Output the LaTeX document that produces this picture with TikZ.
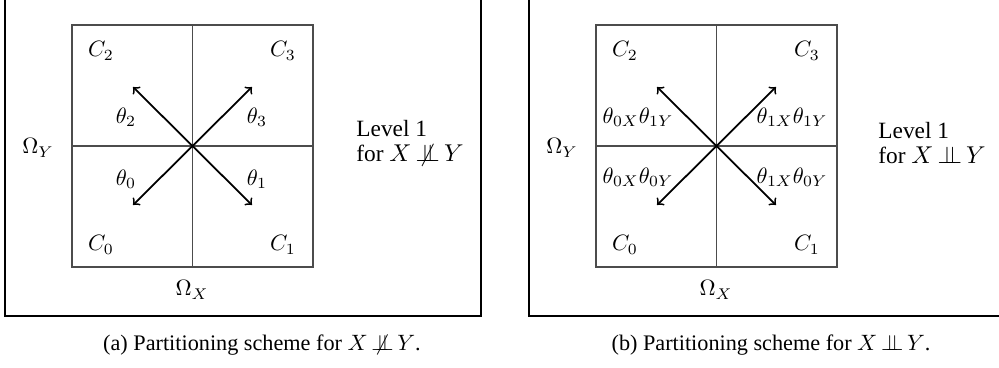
\documentclass[tikz,border=0pt]{standalone}
\usepackage[no-math]{fontspec}
\setmainfont{Liberation Serif}
\usetikzlibrary{positioning}
\newcommand{\indep}{\mkern3mu{\perp\mkern-10mu\perp}\mkern3mu}
\newcommand{\nindep}{\mkern3mu{\perp\mkern-12mu\not\mkern2mu\perp}\mkern3mu}
\tikzset{
  frame/.style={draw,line width=0.5pt},
  cell/.style={draw=black!70,line width=0.5pt},
  prob/.style={->,>=to,thick},
  words/.style={font=\fontsize{10.5}{11.1}\selectfont,align=left,anchor=west,inner sep=0pt},
}
\begin{document}
\begin{tikzpicture}[x=0.45pt,y=-0.45pt]
    \useasboundingbox (0,0) rectangle (999,368);
    \clip (0,0) rectangle (999,368);

    % (a) dependent case
    \draw[frame] (5,-10) rectangle (481,316);
    \draw[cell] (72,25) rectangle (313,267);
    \draw[cell] (192.5,25)--(192.5,267);
    \draw[cell] (72,146)--(313,146);
    \coordinate (oa) at (192.5,146);
    \coordinate (a0) at (133,205);
    \coordinate (a1) at (252,205);
    \coordinate (a2) at (133,87);
    \coordinate (a3) at (252,87);
    \draw[prob] (oa)--(a0);
    \draw[prob] (oa)--(a1);
    \draw[prob] (oa)--(a2);
    \draw[prob] (oa)--(a3);
    \node (ca0) at (101,245) {\(C_0\)};
    \node (ca1) at (283,245) {\(C_1\)};
    \node (ca2) at (101,51) {\(C_2\)};
    \node (ca3) at (283,51) {\(C_3\)};
    \node (ta0) at (126,179) {\(\theta_0\)};
    \node (ta1) at (257,179) {\(\theta_1\)};
    \node (ta2) at (126,117) {\(\theta_2\)};
    \node (ta3) at (257,117) {\(\theta_3\)};
    \node (oya) at (38,148) {\(\Omega_Y\)};
    \node (oxa) at (192,290) {\(\Omega_X\)};
    \node[words] (lva) at (356,143) {Level 1\\for \(X\nindep Y\)};
    \node (capa) at (262,345) {(a) Partitioning scheme for \(X\nindep Y\).};

    % (b) independent case
    \draw[frame] (529,-10) rectangle (1010,316);
    \draw[cell] (596,25) rectangle (837,267);
    \draw[cell] (716.5,25)--(716.5,267);
    \draw[cell] (596,146)--(837,146);
    \coordinate (ob) at (716.5,146);
    \coordinate (b0) at (657,205);
    \coordinate (b1) at (776,205);
    \coordinate (b2) at (657,87);
    \coordinate (b3) at (776,87);
    \draw[prob] (ob)--(b0);
    \draw[prob] (ob)--(b1);
    \draw[prob] (ob)--(b2);
    \draw[prob] (ob)--(b3);
    \node (cb0) at (625,245) {\(C_0\)};
    \node (cb1) at (807,245) {\(C_1\)};
    \node (cb2) at (625,51) {\(C_2\)};
    \node (cb3) at (807,51) {\(C_3\)};
    \node (tb0) at (638,177) {\(\theta_{0X}\theta_{0Y}\)};
    \node (tb1) at (792,177) {\(\theta_{1X}\theta_{0Y}\)};
    \node (tb2) at (638,117) {\(\theta_{0X}\theta_{1Y}\)};
    \node (tb3) at (792,117) {\(\theta_{1X}\theta_{1Y}\)};
    \node (oyb) at (562,148) {\(\Omega_Y\)};
    \node (oxb) at (716,290) {\(\Omega_X\)};
    \node[words] (lvb) at (878,143) {Level 1\\for \(X\indep Y\)};
    \node (capb) at (771,345) {(b) Partitioning scheme for \(X\indep Y\).};
\end{tikzpicture}
\end{document}
